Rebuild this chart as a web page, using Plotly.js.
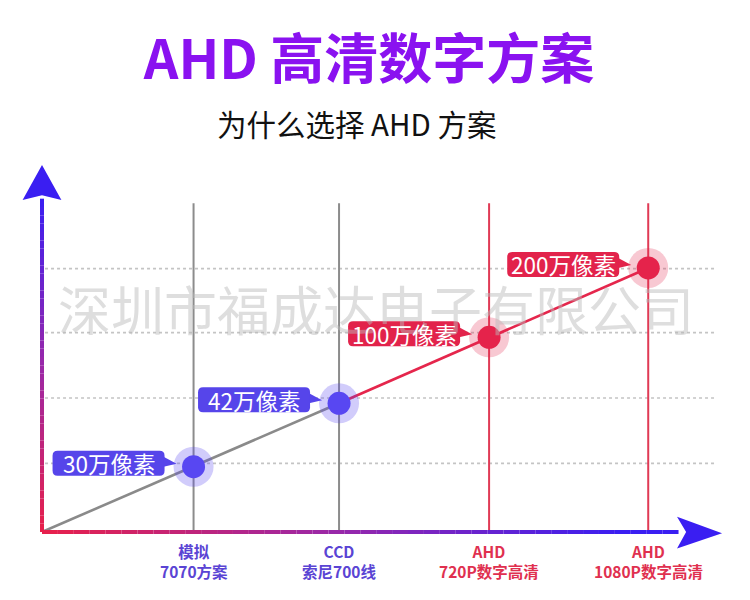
<!DOCTYPE html>
<html><head><meta charset="utf-8">
<script src="https://cdn.plot.ly/plotly-3.0.1.min.js"></script>
<style>html,body{margin:0;padding:0;background:#fff}</style>
</head><body>
<div id="chart" style="width:750px;height:600px"></div>
<script>
// ---- data ----
const catLine1 = ['模拟', 'CCD', 'AHD', 'AHD'];
const catLine2 = ['7070方案', '索尼700线', '720P数字高清', '1080P数字高清'];
const xPos = [1.0, 1.96, 2.95, 4.0];
const pixelLevel = [0.99, 1.95, 2.95, 4.0];
const pointLabels = ['30万像素', '42万像素', '100万像素', '200万像素'];
const gridLevels = [1.04, 2.03, 3.02, 3.99];
const groupOf = ['old', 'old', 'ahd', 'ahd'];

// ---- styles ----
const C = {
  old: {dot: '#5847F2', halo: 'rgba(88,71,242,0.28)', box: '#5645EA', text: '#5A44D4', vline: '#8c8c8c'},
  ahd: {dot: '#E5234B', halo: 'rgba(229,35,75,0.25)', box: '#E2234B', text: '#E0304F', vline: '#E03A55'}
};
const xMax = 4.5, yMax = 5.56;
const px = x => x / xMax, py = y => y / yMax;

function mix(a, b, t) {
  const pa = a.match(/\w\w/g).map(h => parseInt(h, 16));
  const pb = b.match(/\w\w/g).map(h => parseInt(h, 16));
  return 'rgb(' + pa.map((v, i) => Math.round(v + (pb[i] - v) * t)).join(',') + ')';
}
const RED = 'E8204A', PURP = '9A28A8', BLUE = '3A1EF2';
function grad(t) { return t < 0.5 ? mix(RED, PURP, t / 0.5) : mix(PURP, BLUE, (t - 0.5) / 0.5); }

const shapes = [];
// horizontal dotted guides
gridLevels.forEach(g => shapes.push({type: 'line', layer: 'below', xref: 'x', yref: 'y',
  x0: 0.02, x1: 4.44, y0: g, y1: g, line: {color: '#c4c4c4', width: 1.6, dash: 'dot'}}));
// vertical category lines
xPos.forEach((x, i) => shapes.push({type: 'line', layer: 'below', xref: 'x', yref: 'y',
  x0: x, x1: x, y0: 0, y1: 4.98, line: {color: C[groupOf[i]].vline, width: 2}}));
// gradient axes (paper refs so they are not clipped)
const N = 40;
const yTop = 5.05, xRight = 4.2;
for (let k = 0; k < N; k++) {
  const t0 = k / N, t1 = (k + 1) / N;
  shapes.push({type: 'line', xref: 'paper', yref: 'paper', x0: 0, x1: 0, y0: py(yTop * t0), y1: py(yTop * t1),
    line: {color: grad((t0 + t1) / 2), width: 4}});
  shapes.push({type: 'line', xref: 'paper', yref: 'paper', x0: px(xRight * t0), x1: px(xRight * t1), y0: 0, y1: 0,
    line: {color: grad(Math.min(1, (t0 + t1) / 2 * 1.1)), width: 4}});
}
// arrow heads
shapes.push({type: 'path', xref: 'paper', yref: 'paper',
  path: `M ${px(-0.128)},${py(5.03)} L 0,1 L ${px(0.128)},${py(5.03)} L 0,${py(5.1)} Z`,
  fillcolor: '#' + BLUE, line: {width: 0}});
shapes.push({type: 'path', xref: 'paper', yref: 'paper',
  path: `M ${px(4.19)},${py(-0.25)} L ${px(4.487)},${py(-0.02)} L ${px(4.19)},${py(0.23)} L ${px(4.25)},0 Z`,
  fillcolor: '#' + BLUE, line: {width: 0}});

// label callouts (rounded boxes + pointers), anchored at data points
const L = -141, R = -29, B = -9, T = 16, r = 5;
const boxPath = `M ${L + r},${B} L ${R - r},${B} Q ${R},${B} ${R},${B + r} L ${R},${T - r} Q ${R},${T} ${R - r},${T} ` +
  `L ${L + r},${T} Q ${L},${T} ${L},${T - r} L ${L},${B + r} Q ${L},${B} ${L + r},${B} Z`;
const ptrPath = `M ${R - 1},0 L ${R + 12},3 L ${R - 1},10 Z`;
xPos.forEach((x, i) => {
  const col = C[groupOf[i]].box;
  [boxPath, ptrPath].forEach(p => shapes.push({type: 'path', layer: 'above', xref: 'x', yref: 'y',
    xsizemode: 'pixel', ysizemode: 'pixel', xanchor: x, yanchor: pixelLevel[i], path: p,
    fillcolor: col, line: {width: 0}}));
});

const annotations = [];
annotations.push({xref: 'paper', yref: 'paper', x: 0.49, y: 0.61, showarrow: false, yanchor: 'middle',
  text: '深圳市福成达电子有限公司', font: {size: 53, color: 'rgba(185,185,185,0.48)', family: 'Noto Sans CJK SC'}});
annotations.push({xref: 'paper', yref: 'paper', x: (356 - 42) / 682, y: (532 - 123) / 367, showarrow: false,
  xanchor: 'center', yanchor: 'middle',
  text: '为什么选择 AHD 方案', font: {size: 29.5, color: '#111', family: 'Noto Sans CJK SC'}});
xPos.forEach((x, i) => annotations.push({xref: 'x', yref: 'y', x: x, y: pixelLevel[i], showarrow: false,
  xshift: (L + R) / 2, yshift: (T + B) / 2, xanchor: 'center', yanchor: 'middle',
  text: pointLabels[i], font: {size: 22.5, color: '#fff', family: 'Noto Sans CJK SC'}}));
// two-row category labels under the axis
xPos.forEach((x, i) => annotations.push({xref: 'x', yref: 'y', x: x, y: 0,
  showarrow: false, xanchor: 'center', yanchor: 'top', yshift: -6, align: 'center',
  text: '<b>' + catLine1[i] + '</b><br><b>' + catLine2[i] + '</b>',
  font: {size: 15.5, color: C[groupOf[i]].text, family: 'Noto Sans CJK SC'}}));

const traces = [
  {x: [0, xPos[0], xPos[1]], y: [0, pixelLevel[0], pixelLevel[1]], mode: 'lines',
   line: {color: '#8a8a8a', width: 2.6}, hoverinfo: 'skip'},
  {x: [xPos[1], xPos[2], xPos[3]], y: [pixelLevel[1], pixelLevel[2], pixelLevel[3]], mode: 'lines',
   line: {color: '#E5264C', width: 2.6}, hoverinfo: 'skip'},
  {x: xPos, y: pixelLevel, mode: 'markers', hoverinfo: 'skip',
   marker: {size: 40, color: groupOf.map(g => C[g].halo), line: {width: 0}}},
  {x: xPos, y: pixelLevel, mode: 'markers', hoverinfo: 'skip',
   marker: {size: 23, color: groupOf.map(g => C[g].dot), line: {width: 0}}}
];

const layout = {
  width: 750, height: 600, showlegend: false,
  paper_bgcolor: '#fff', plot_bgcolor: '#fff',
  margin: {l: 42, r: 26, t: 165, b: 68},
  font: {family: 'Noto Sans CJK SC, Noto Sans, sans-serif'},
  title: {text: '<b>AHD 高清数字方案</b>', font: {size: 54, color: '#8A12F0', family: 'Noto Sans CJK SC'},
    x: (369 - 42) / 682, xanchor: 'center', xref: 'paper', y: 0.9, yref: 'container', yanchor: 'middle'},
  xaxis: {range: [0, xMax], showgrid: false, zeroline: false, showline: false, ticks: '',
    showticklabels: false, fixedrange: true},
  yaxis: {range: [0, yMax], showgrid: false, zeroline: false, showline: false, showticklabels: false,
    ticks: '', fixedrange: true},
  shapes: shapes, annotations: annotations
};
Plotly.newPlot('chart', traces, layout, {displayModeBar: false, staticPlot: true});
</script>
</body></html>
